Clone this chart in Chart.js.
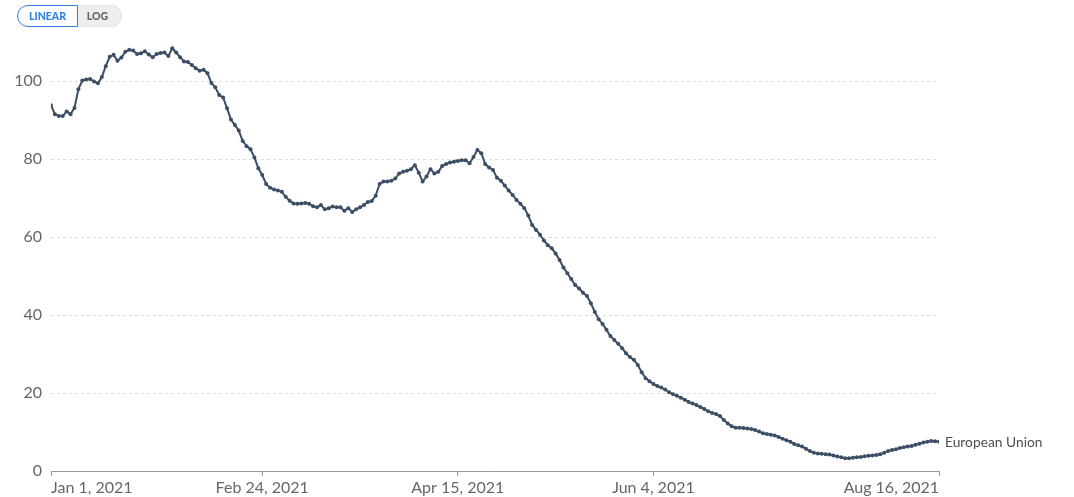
<!DOCTYPE html>
<html>
<head>
<meta charset="utf-8">
<script src="https://cdn.jsdelivr.net/npm/chart.js@4"></script>
<style>
  body { margin: 0; background: #fff; font-family: Lato, sans-serif; }
  #wrap { position: relative; width: 1074px; height: 497px; }
  canvas { position: absolute; left: 0; top: 0; }
  .toggle { position: absolute; left: 17px; top: 5px; display: flex; height: 22px; }
  .toggle div { font-family: Lato, sans-serif; font-size: 10.5px; font-weight: 900; line-height: 20px; box-sizing: border-box; height: 22px; }
  .lin { width: 61px; text-align: center; color: #2f7fe0; background: #fff; border: 1px solid #2f7fe0; border-radius: 11px 0 0 11px; }
  .log { width: 44px; text-align: center; color: #666; background: #eee; border: 1px solid #e4e4e4; border-left: none; border-radius: 0 11px 11px 0; padding-right: 4px; }
</style>
</head>
<body>
<div id="wrap">
  <canvas id="myChart" width="1074" height="497"></canvas>
  <div class="toggle"><div class="lin">LINEAR</div><div class="log">LOG</div></div>
</div>
<script>
// Daily values, Jan 1 2021 (day 0) to Aug 16 2021 (day 227)
var seriesName = "European Union";
var values = [
  93.8, 91.5, 91.0, 91.0, 92.2, 91.5, 93.1, 97.9, 100.1, 100.4,
  100.5, 99.9, 99.4, 101.0, 103.8, 106.2, 106.7, 105.2, 106.0, 107.5,
  108.0, 107.8, 106.9, 107.1, 107.6, 106.8, 106.1, 106.9, 107.2, 107.3,
  106.4, 108.4, 107.3, 106.1, 105.0, 104.9, 104.1, 103.3, 102.6, 102.9,
  102.0, 99.5, 98.4, 96.4, 95.8, 93.0, 90.1, 88.7, 87.3, 84.6,
  83.3, 82.5, 80.4, 77.6, 75.9, 73.6, 72.6, 72.2, 71.9, 71.6,
  70.3, 69.3, 68.6, 68.5, 68.6, 68.7, 68.5, 67.9, 67.6, 68.2,
  67.1, 67.4, 67.8, 67.6, 67.6, 66.7, 67.4, 66.4, 67.1, 67.6,
  68.2, 69.0, 69.2, 70.6, 73.6, 74.2, 74.2, 74.4, 75.0, 76.3,
  76.7, 77.0, 77.4, 78.4, 76.5, 74.2, 75.5, 77.4, 76.3, 76.7,
  78.2, 78.7, 79.1, 79.3, 79.5, 79.7, 79.7, 78.9, 80.5, 82.3,
  81.5, 78.7, 77.8, 77.2, 75.2, 74.4, 73.2, 71.9, 70.8, 69.5,
  68.5, 67.4, 65.5, 63.1, 61.8, 60.6, 59.1, 57.9, 57.1, 55.8,
  54.1, 52.2, 50.7, 49.2, 47.7, 46.8, 45.7, 44.9, 43.0, 40.8,
  38.9, 37.7, 36.2, 34.6, 33.6, 32.6, 31.5, 30.2, 29.2, 28.5,
  27.2, 25.3, 23.8, 23.0, 22.3, 21.8, 21.4, 20.9, 20.2, 19.7,
  19.3, 18.8, 18.3, 17.7, 17.3, 16.9, 16.4, 15.9, 15.3, 14.9,
  14.6, 14.1, 13.1, 12.2, 11.5, 11.1, 11.1, 11.0, 10.9, 10.8,
  10.5, 10.1, 9.7, 9.5, 9.3, 9.1, 8.7, 8.3, 7.9, 7.5,
  6.9, 6.6, 6.3, 5.7, 5.1, 4.7, 4.5, 4.4, 4.3, 4.2,
  4.0, 3.7, 3.5, 3.3, 3.3, 3.4, 3.5, 3.6, 3.8, 3.9,
  4.0, 4.1, 4.3, 4.7, 5.1, 5.4, 5.6, 5.9, 6.1, 6.3,
  6.4, 6.7, 7.0, 7.3, 7.5, 7.7, 7.6, 7.5
];

// x axis ticks (day index from Jan 1) and their labels
var xTickDays = [0, 54, 104, 154, 227];
var xTickLabels = ["Jan 1, 2021", "Feb 24, 2021", "Apr 15, 2021", "Jun 4, 2021", "Aug 16, 2021"];
var yTicks = [0, 20, 40, 60, 80, 100];

var points = [];
for (var i = 0; i < values.length; i = i + 1) {
  points.push({ x: i, y: values[i] });
}

var lineColor = "#3c4e66";

// writes the series name next to the last point
var endLabel = {
  id: "endLabel",
  afterDatasetsDraw: function (chart) {
    var meta = chart.getDatasetMeta(0);
    var last = meta.data[meta.data.length - 1];
    var ctx = chart.ctx;
    ctx.save();
    ctx.font = "13.8px Lato, sans-serif";
    ctx.fillStyle = "#4d4d4d";
    ctx.textAlign = "left";
    ctx.textBaseline = "middle";
    ctx.fillText(seriesName, last.x + 6, last.y + 1);
    ctx.restore();
  }
};

new Chart(document.getElementById("myChart").getContext("2d"), {
  type: "line",
  data: {
    datasets: [{
      label: seriesName,
      data: points,
      borderColor: lineColor,
      backgroundColor: lineColor,
      borderWidth: 2,
      pointRadius: 2,
      pointBorderWidth: 0,
      tension: 0
    }]
  },
  options: {
    responsive: false,
    animation: false,
    devicePixelRatio: 1,
    layout: { padding: { top: 42, right: 135, left: 0, bottom: 0 } },
    plugins: { legend: { display: false }, tooltip: { enabled: false } },
    scales: {
      x: {
        type: "linear",
        min: 0,
        max: 227,
        afterBuildTicks: function (scale) {
          scale.ticks = xTickDays.map(function (d) { return { value: d }; });
        },
        afterFit: function (scale) { scale.height = 26; },
        ticks: {
          align: "inner",
          autoSkip: false,
          maxRotation: 0,
          padding: 2,
          color: "#666",
          font: { family: "Lato", size: 16 },
          callback: function (v) { return xTickLabels[xTickDays.indexOf(v)]; }
        },
        grid: { drawOnChartArea: false, drawTicks: true, tickLength: 5, color: "#999" },
        border: { display: true, color: "#999", width: 1 }
      },
      y: {
        min: 0,
        max: 110,
        afterBuildTicks: function (scale) {
          scale.ticks = yTicks.map(function (v) { return { value: v }; });
        },
        afterFit: function (scale) { scale.width = 51; },
        ticks: {
          padding: 9,
          color: "#666",
          font: { family: "Lato", size: 16 }
        },
        grid: {
          drawTicks: false,
          color: function (c) { return c.tick && c.tick.value === 0 ? "rgba(0,0,0,0)" : "#dddddd"; }
        },
        border: { display: false, dash: [3, 3] }
      }
    }
  },
  plugins: [endLabel]
});
</script>
</body>
</html>
